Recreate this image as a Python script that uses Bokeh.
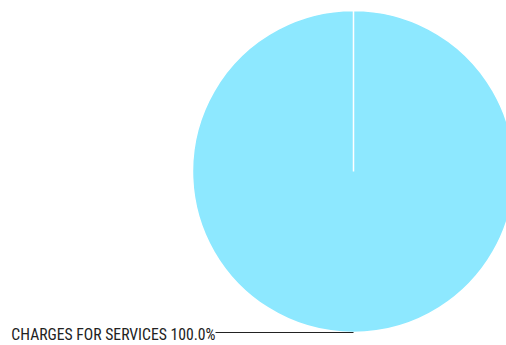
import math
from bokeh.plotting import figure
from bokeh.models import Range1d, ColumnDataSource
from bokeh.core.properties import value
from bokeh.embed import file_html
from bokeh.resources import INLINE

categories = ["CHARGES FOR SERVICES"]
values = [100.0]

W, H = 506, 345
cx, cy, r = 353, 345 - 171, 161

total = sum(values)
starts, ends, labels, mids = [], [], [], []
acc = 0.0
eps = 1e-4
for c, v in zip(categories, values):
    a0 = math.pi / 2 - 2 * math.pi * acc / total
    acc += v
    a1 = math.pi / 2 - 2 * math.pi * acc / total + eps
    starts.append(a0)
    ends.append(a1)
    mids.append((a0 + a1) / 2)
    labels.append(f"{c} {v / total * 100:.1f}%")

src = ColumnDataSource(dict(x=[cx] * len(values), y=[cy] * len(values),
                            start=starts, end=ends))

p = figure(width=W, height=H, output_backend="svg", toolbar_location=None,
           x_range=Range1d(0, W), y_range=Range1d(0, H), min_border=0)
p.axis.visible = False
p.grid.visible = False
p.outline_line_color = None
p.background_fill_color = "white"

p.wedge(x="x", y="y", radius=r, start_angle="start", end_angle="end",
        direction="clock", fill_color="#8DE8FF", line_color="white",
        line_width=1.5, source=src)

for lab, m in zip(labels, mids):
    px = cx + r * math.cos(m)
    py = cy + r * math.sin(m)
    tx = 215
    p.line([px, tx], [py, py], line_color="#222222", line_width=1)
    p.text([tx], [py - 1.5], text=[lab], text_align="right", text_baseline="middle",
           text_font=value("Roboto Condensed"), text_font_size="15.7px",
           text_color="#222222")

open("out.html", "w").write(file_html(p, INLINE))
